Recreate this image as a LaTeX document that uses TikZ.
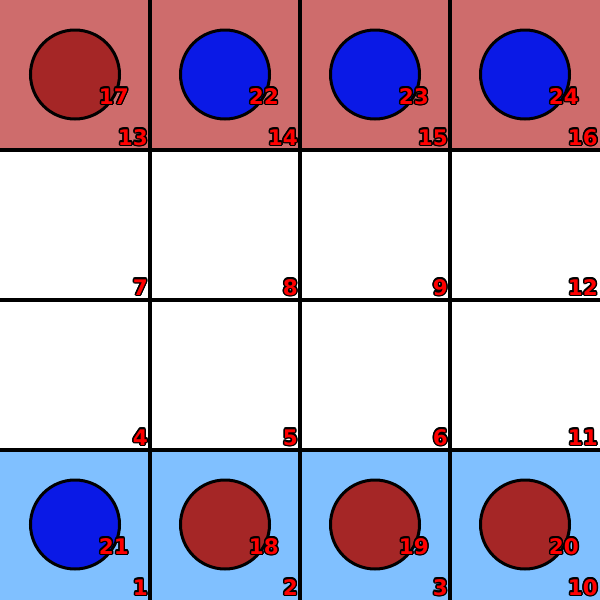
\documentclass[tikz,border=0pt]{standalone}
\usepackage{fontspec}
\setmainfont{DejaVu Sans}
\definecolor{toprow}{HTML}{CE6C6C}
\definecolor{botrow}{HTML}{80C0FF}
\definecolor{redpiece}{HTML}{A52626}
\definecolor{bluepiece}{HTML}{0A19E6}
\tikzset{
  cellbox/.style={draw=none,minimum size=150pt,inner sep=0pt,anchor=north west},
  gridline/.style={line width=3.5pt},
  piece/.style={circle,draw=black,line width=3pt,minimum size=89pt,inner sep=0pt},
  lab/.style={font=\bfseries\fontsize{21.5}{21.5}\selectfont,inner sep=0pt,anchor=base east}
}
\newcommand\outlinedlabel[3]{%
  \foreach \a in {0,30,...,330}{\node[lab,text=black,shift={(\a:1.4pt)}] at (#2) {#3};}
  \node[lab,text=red] (#1) at (#2) {#3};}
\begin{document}
\begin{tikzpicture}[x=1pt,y=-1pt]
\useasboundingbox (0,0) rectangle (600,600);
\fill[white] (0,0) rectangle (600,600);
% coloured rows
\foreach \c in {0,1,2,3}{
  \node[cellbox,fill=toprow] (top\c) at (150*\c,0) {};
  \node[cellbox,fill=botrow] (bot\c) at (150*\c,450) {};
}
% grid
\foreach \v in {150,300,450}{
  \draw[gridline] (\v,0) -- (\v,600);
  \draw[gridline] (0,\v) -- (600,\v);
}
% pieces
\foreach \c/\col/\n in {0/redpiece/17,1/bluepiece/22,2/bluepiece/23,3/bluepiece/24}{
  \node[piece,fill=\col] (p\n) at (150*\c+75,74.5) {};
}
\foreach \c/\col/\n in {0/bluepiece/21,1/redpiece/18,2/redpiece/19,3/redpiece/20}{
  \node[piece,fill=\col] (p\n) at (150*\c+75,524.5) {};
}
% piece labels
\foreach \c/\n in {0/17,1/22,2/23,3/24}{
  \outlinedlabel{lp\n}{150*\c+129,104}{\n}
}
\foreach \c/\n in {0/21,1/18,2/19,3/20}{
  \outlinedlabel{lp\n}{150*\c+129,554}{\n}
}
% cell labels
\foreach \c/\r/\n in {0/0/13,1/0/14,2/0/15,3/0/16,
                      0/1/7,1/1/8,2/1/9,3/1/12,
                      0/2/4,1/2/5,2/2/6,3/2/11,
                      0/3/1,1/3/2,2/3/3,3/3/10}{
  \outlinedlabel{lc\n}{150*\c+148,150*\r+145}{\n}
}
\end{tikzpicture}
\end{document}
